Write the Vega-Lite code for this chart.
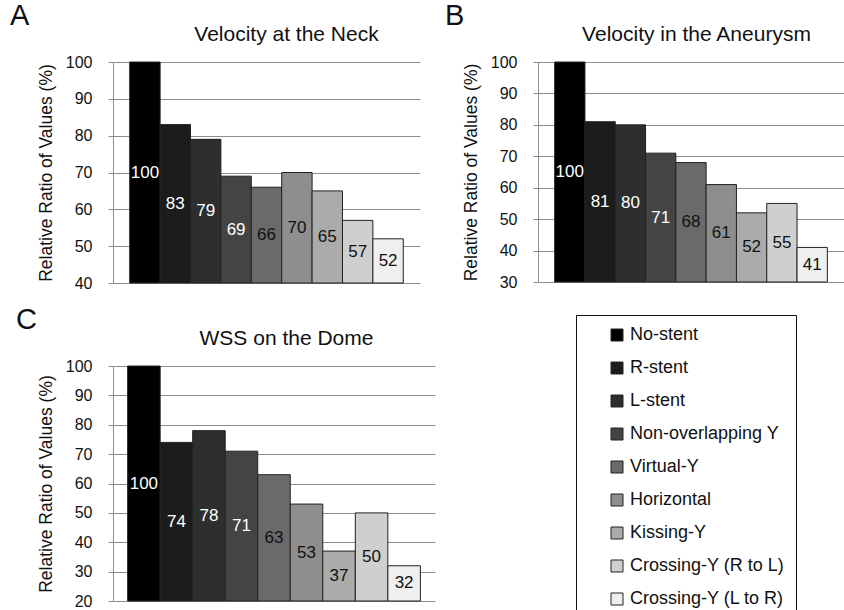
{
  "$schema": "https://vega.github.io/schema/vega-lite/v6.json",
  "padding": {"left": 10, "top": 2, "right": 0, "bottom": 0},
  "background": "white",
  "config": {
    "font": "Liberation Sans",
    "view": {"stroke": null},
    "axis": {"labelFont": "Liberation Sans", "titleFont": "Liberation Sans", "labelColor": "#111", "titleColor": "#111", "titleFontWeight": "normal"},
    "axisY": {"grid": true, "gridColor": "#8c8c8c", "domainColor": "#8c8c8c", "tickColor": "#8c8c8c", "tickSize": 5, "labelFontSize": 16, "labelPadding": 16, "titleFontSize": 17.5, "titlePadding": 10},
    "title": {"fontSize": 29, "fontWeight": "normal", "anchor": "start", "frame": "group", "color": "#111", "font": "Liberation Sans"},
    "legend": {
      "orient": "none", "legendX": 463, "legendY": 253, "direction": "vertical",
      "symbolType": "square", "symbolSize": 144, "symbolStrokeColor": "#222", "symbolStrokeWidth": 1,
      "labelFontSize": 18, "labelColor": "#111", "labelFont": "Liberation Sans", "rowPadding": 15, "padding": 11, "symbolOffset": 21, "labelOffset": 4,
      "strokeColor": "#111", "fillColor": "#fff", "labelLimit": 300
    }
  },
  "datasets": {
    "d": [
      {"panel": "A", "stent": "No-stent", "value": 100},
      {"panel": "A", "stent": "R-stent", "value": 83},
      {"panel": "A", "stent": "L-stent", "value": 79},
      {"panel": "A", "stent": "Non-overlapping Y", "value": 69},
      {"panel": "A", "stent": "Virtual-Y", "value": 66},
      {"panel": "A", "stent": "Horizontal", "value": 70},
      {"panel": "A", "stent": "Kissing-Y", "value": 65},
      {"panel": "A", "stent": "Crossing-Y (R to L)", "value": 57},
      {"panel": "A", "stent": "Crossing-Y (L to R)", "value": 52},
      {"panel": "B", "stent": "No-stent", "value": 100},
      {"panel": "B", "stent": "R-stent", "value": 81},
      {"panel": "B", "stent": "L-stent", "value": 80},
      {"panel": "B", "stent": "Non-overlapping Y", "value": 71},
      {"panel": "B", "stent": "Virtual-Y", "value": 68},
      {"panel": "B", "stent": "Horizontal", "value": 61},
      {"panel": "B", "stent": "Kissing-Y", "value": 52},
      {"panel": "B", "stent": "Crossing-Y (R to L)", "value": 55},
      {"panel": "B", "stent": "Crossing-Y (L to R)", "value": 41},
      {"panel": "C", "stent": "No-stent", "value": 100},
      {"panel": "C", "stent": "R-stent", "value": 74},
      {"panel": "C", "stent": "L-stent", "value": 78},
      {"panel": "C", "stent": "Non-overlapping Y", "value": 71},
      {"panel": "C", "stent": "Virtual-Y", "value": 63},
      {"panel": "C", "stent": "Horizontal", "value": 53},
      {"panel": "C", "stent": "Kissing-Y", "value": 37},
      {"panel": "C", "stent": "Crossing-Y (R to L)", "value": 50},
      {"panel": "C", "stent": "Crossing-Y (L to R)", "value": 32}
    ]
  },
  "spacing": 15,
  "vconcat": [
    {
      "spacing": 25,
      "hconcat": [
        {
          "title": {"text": "A", "dx": -103, "dy": 12},
          "width": 307, "height": 221,
          "data": {"name": "d"},
          "transform": [{"filter": "datum.panel == 'A'"}],
          "layer": [
            {
              "mark": {"type": "bar", "stroke": "#222", "strokeWidth": 1},
              "encoding": {
                "x": {"field": "stent", "type": "nominal", "scale": {"domain": ["No-stent", "R-stent", "L-stent", "Non-overlapping Y", "Virtual-Y", "Horizontal", "Kissing-Y", "Crossing-Y (R to L)", "Crossing-Y (L to R)"], "paddingInner": 0, "paddingOuter": 0.55}, "axis": {"orient": "top", "title": "Velocity at the Neck", "labels": false, "ticks": false, "domain": false, "grid": false, "titleFontSize": 21, "titlePadding": 18, "titleX": 173}},
                "y": {"field": "value", "type": "quantitative", "scale": {"domain": [40, 100], "nice": false, "zero": false}, "axis": {"values": [40, 50, 60, 70, 80, 90, 100], "title": "Relative Ratio of Values (%)"}},
                "y2": {"datum": 40},
                "color": {"field": "stent", "type": "nominal", "scale": {"domain": ["No-stent", "R-stent", "L-stent", "Non-overlapping Y", "Virtual-Y", "Horizontal", "Kissing-Y", "Crossing-Y (R to L)", "Crossing-Y (L to R)"], "range": ["#000000", "#1c1c1c", "#2e2e2e", "#444444", "#6a6a6a", "#8e8e8e", "#ababab", "#cfcfcf", "#efefef"]}, "legend": {"title": null}}
              }
            },
            {
              "mark": {"type": "text", "fontSize": 17, "baseline": "middle"},
              "encoding": {
                "x": {"field": "stent", "type": "nominal"},
                "y": {"field": "value", "type": "quantitative", "scale": {"domain": [40, 160], "nice": false, "zero": false}, "axis": null},
                "text": {"field": "value", "type": "quantitative"},
                "fill": {"field": "stent", "type": "nominal", "scale": {"domain": ["No-stent", "R-stent", "L-stent", "Non-overlapping Y", "Virtual-Y", "Horizontal", "Kissing-Y", "Crossing-Y (R to L)", "Crossing-Y (L to R)"], "range": ["#ffffff", "#ffffff", "#ffffff", "#ffffff", "#111111", "#111111", "#111111", "#111111", "#111111"]}, "legend": null}
              }
            }
          ],
          "resolve": {"scale": {"y": "independent"}}
        },
        {
          "title": {"text": "B", "dx": -93, "dy": 12},
          "width": 306, "height": 220,
          "data": {"name": "d"},
          "transform": [{"filter": "datum.panel == 'B'"}],
          "layer": [
            {
              "mark": {"type": "bar", "stroke": "#222", "strokeWidth": 1},
              "encoding": {
                "x": {"field": "stent", "type": "nominal", "scale": {"domain": ["No-stent", "R-stent", "L-stent", "Non-overlapping Y", "Virtual-Y", "Horizontal", "Kissing-Y", "Crossing-Y (R to L)", "Crossing-Y (L to R)"], "paddingInner": 0, "paddingOuter": 0.55}, "axis": {"orient": "top", "title": "Velocity in the Aneurysm", "labels": false, "ticks": false, "domain": false, "grid": false, "titleFontSize": 21, "titlePadding": 18, "titleX": 158}},
                "y": {"field": "value", "type": "quantitative", "scale": {"domain": [30, 100], "nice": false, "zero": false}, "axis": {"values": [30, 40, 50, 60, 70, 80, 90, 100], "title": "Relative Ratio of Values (%)"}},
                "y2": {"datum": 30},
                "color": {"field": "stent", "type": "nominal"}
              }
            },
            {
              "mark": {"type": "text", "fontSize": 17, "baseline": "middle"},
              "encoding": {
                "x": {"field": "stent", "type": "nominal"},
                "y": {"field": "value", "type": "quantitative", "scale": {"domain": [30, 170], "nice": false, "zero": false}, "axis": null},
                "text": {"field": "value", "type": "quantitative"},
                "fill": {"field": "stent", "type": "nominal", "legend": null}
              }
            }
          ],
          "resolve": {"scale": {"y": "independent"}}
        }
      ]
    },
    {
      "hconcat": [
        {
          "title": {"text": "C", "dx": -97, "dy": 12},
          "width": 322, "height": 235,
          "data": {"name": "d"},
          "transform": [{"filter": "datum.panel == 'C'"}],
          "layer": [
            {
              "mark": {"type": "bar", "stroke": "#222", "strokeWidth": 1},
              "encoding": {
                "x": {"field": "stent", "type": "nominal", "scale": {"domain": ["No-stent", "R-stent", "L-stent", "Non-overlapping Y", "Virtual-Y", "Horizontal", "Kissing-Y", "Crossing-Y (R to L)", "Crossing-Y (L to R)"], "paddingInner": 0, "paddingOuter": 0.45}, "axis": {"orient": "top", "title": "WSS on the Dome", "labels": false, "ticks": false, "domain": false, "grid": false, "titleFontSize": 21, "titlePadding": 18, "titleX": 173}},
                "y": {"field": "value", "type": "quantitative", "scale": {"domain": [20, 100], "nice": false, "zero": false}, "axis": {"values": [20, 30, 40, 50, 60, 70, 80, 90, 100], "title": "Relative Ratio of Values (%)"}},
                "y2": {"datum": 20},
                "color": {"field": "stent", "type": "nominal"}
              }
            },
            {
              "mark": {"type": "text", "fontSize": 17, "baseline": "middle"},
              "encoding": {
                "x": {"field": "stent", "type": "nominal"},
                "y": {"field": "value", "type": "quantitative", "scale": {"domain": [20, 180], "nice": false, "zero": false}, "axis": null},
                "text": {"field": "value", "type": "quantitative"},
                "fill": {"field": "stent", "type": "nominal", "legend": null}
              }
            }
          ],
          "resolve": {"scale": {"y": "independent"}}
        }
      ]
    }
  ]
}
